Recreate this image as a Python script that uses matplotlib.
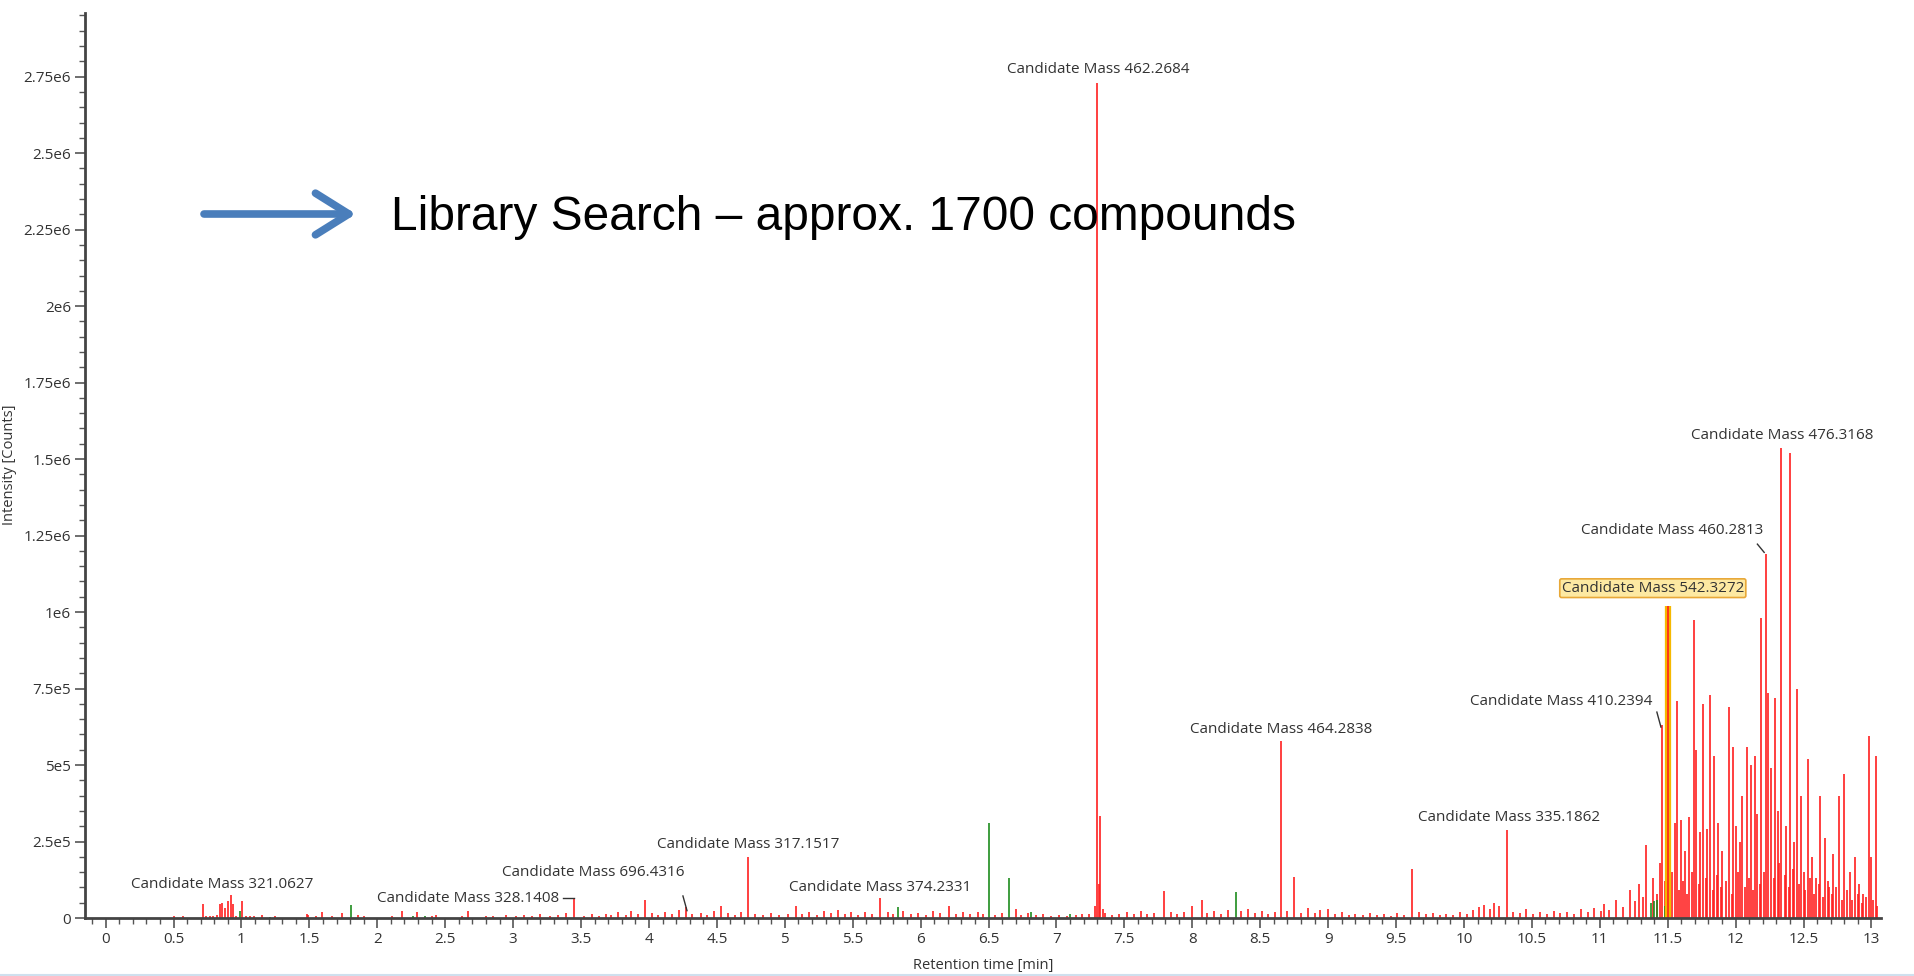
import matplotlib
matplotlib.use("Agg")
import matplotlib.pyplot as plt
from matplotlib.ticker import MultipleLocator
from matplotlib.lines import Line2D

# ---- peak data: retention time [min], intensity [counts] ----
main_rt = [7.28, 7.30, 7.31, 7.32, 7.34,
           0.50, 0.57, 0.716, 0.74, 0.77, 0.79, 0.82, 0.839, 0.859, 0.878, 0.898,
           0.920, 0.940, 0.96, 1.001, 1.03, 1.06, 1.09, 1.15, 1.25, 1.48, 1.49,
           1.55, 1.59, 1.67, 1.74, 1.86, 1.90, 2.11, 2.18, 2.29, 2.40, 2.43,
           2.62, 2.67, 2.80,
           3.45, 3.97, 4.27, 4.73, 5.70, 7.79, 8.07, 8.655, 8.75, 9.62, 10.32]
main_int = [4.0e4, 2.73e6, 1.1e5, 3.35e5, 3.0e4,
            5e3, 5e3, 4.7e4, 6e3, 5e3, 6e3, 1.0e4, 4.6e4, 5.0e4, 3.3e4, 5.5e4,
            7.4e4, 4.6e4, 7e3, 5.5e4, 7e3, 5e3, 5e3, 1.0e4, 5e3, 1.3e4, 9e3,
            5e3, 1.9e4, 5e3, 1.5e4, 1.0e4, 5e3, 5e3, 2.4e4, 1.9e4, 7e3, 1.1e4,
            8e3, 2.4e4, 5e3,
            6.4e4, 6.0e4, 3.5e4, 2.0e5, 6.4e4, 8.8e4, 6.0e4, 5.78e5, 1.35e5, 1.6e5, 2.88e5]

noise_rt = [2.85, 2.95, 3.02, 3.08, 3.14, 3.20, 3.27, 3.33, 3.39, 3.52, 3.58, 3.63,
            3.68, 3.72, 3.77, 3.83, 3.87, 3.92, 4.02, 4.07, 4.12, 4.17, 4.22, 4.32,
            4.38, 4.43, 4.48, 4.53, 4.58, 4.63, 4.68, 4.78, 4.84, 4.90, 4.96, 5.02,
            5.08, 5.13, 5.18, 5.24, 5.29, 5.34, 5.39, 5.44, 5.49, 5.54, 5.59, 5.64,
            5.76, 5.80, 5.87, 5.93, 5.98, 6.04, 6.09, 6.14, 6.21, 6.26, 6.31, 6.36,
            6.42, 6.46, 6.55, 6.60, 6.70, 6.74, 6.79, 6.85, 6.90, 6.96, 7.02, 7.08,
            7.14, 7.19, 7.24, 7.36, 7.41, 7.46, 7.52, 7.57, 7.62, 7.67, 7.72, 7.84,
            7.89, 7.94, 8.00, 8.11, 8.16, 8.21, 8.26, 8.36, 8.41, 8.46, 8.51, 8.56,
            8.61, 8.70, 8.80, 8.85, 8.90, 8.94, 9.00, 9.05, 9.10, 9.15, 9.20, 9.26,
            9.31, 9.36, 9.41, 9.46, 9.51, 9.56, 9.67, 9.72, 9.77, 9.82, 9.87, 9.92,
            9.97, 10.02, 10.07, 10.11, 10.15, 10.19, 10.22, 10.26, 10.36, 10.41,
            10.46, 10.51, 10.56, 10.61, 10.66, 10.71, 10.76, 10.81, 10.86, 10.91,
            10.96, 11.01]
noise_int = [6e3, 9e3, 5e3, 1.1e4, 7e3, 1.3e4, 6e3, 9e3, 1.5e4, 8e3, 1.2e4, 7e3,
             1.4e4, 9e3, 1.8e4, 1.1e4, 2.2e4, 1.3e4, 1.6e4, 1.0e4, 2.0e4, 1.4e4, 2.6e4, 1.2e4,
             1.7e4, 9e3, 2.2e4, 3.8e4, 1.5e4, 1.1e4, 1.8e4, 1.3e4, 9e3, 1.6e4, 1.1e4, 1.4e4,
             4.0e4, 1.2e4, 1.9e4, 1.1e4, 2.3e4, 1.5e4, 2.6e4, 1.3e4, 1.8e4, 1.0e4, 2.1e4, 1.4e4,
             1.9e4, 1.2e4, 2.4e4, 1.3e4, 1.7e4, 1.1e4, 2.3e4, 1.5e4, 3.8e4, 1.4e4, 1.9e4, 1.2e4,
             2.1e4, 1.3e4, 1.1e4, 1.6e4, 2.8e4, 1.1e4, 1.5e4, 9e3, 1.3e4, 8e3, 1.1e4, 7e3,
             1.0e4, 1.4e4, 1.2e4, 1.5e4, 1.0e4, 1.3e4, 1.9e4, 1.2e4, 2.2e4, 1.4e4, 1.6e4, 2.1e4,
             1.3e4, 1.8e4, 3.8e4, 1.6e4, 2.2e4, 1.4e4, 2.7e4, 2.2e4, 3.0e4, 1.5e4, 2.4e4, 1.3e4,
             1.9e4, 2.4e4, 1.6e4, 3.2e4, 1.5e4, 2.6e4, 3.1e4, 1.4e4, 2.1e4, 1.0e4, 1.3e4, 9e3,
             1.6e4, 1.0e4, 1.2e4, 8e3, 1.5e4, 1.1e4, 2.0e4, 1.2e4, 1.6e4, 1.0e4, 1.3e4, 9e3,
             1.9e4, 1.4e4, 2.6e4, 3.6e4, 4.1e4, 2.8e4, 4.8e4, 3.9e4, 2.0e4, 1.6e4,
             2.9e4, 1.4e4, 1.8e4, 1.2e4, 2.4e4, 1.5e4, 2.0e4, 1.3e4, 2.8e4, 1.9e4,
             3.4e4, 2.2e4]

cluster_rt = [11.03, 11.07, 11.12, 11.17, 11.22, 11.26, 11.29, 11.32, 11.34, 11.39,
              11.42, 11.44, 11.46, 11.48, 11.53, 11.55, 11.57, 11.58, 11.60, 11.61,
              11.63, 11.64, 11.66, 11.68, 11.69, 11.71, 11.73, 11.74, 11.76, 11.78,
              11.79, 11.81, 11.83, 11.84, 11.86, 11.87, 11.89, 11.90, 11.93, 11.95,
              11.97, 11.98, 12.00, 12.02, 12.03, 12.05, 12.07, 12.08, 12.10, 12.11,
              12.13, 12.14, 12.16, 12.18, 12.19, 12.21, 12.22, 12.24, 12.26, 12.28,
              12.29, 12.31, 12.32, 12.335, 12.36, 12.37, 12.39, 12.40, 12.42, 12.43,
              12.45, 12.47, 12.48, 12.50, 12.51, 12.53, 12.55, 12.56, 12.58, 12.59,
              12.61, 12.62, 12.64, 12.66, 12.68, 12.69, 12.71, 12.72, 12.74, 12.76,
              12.78, 12.80, 12.82, 12.84, 12.86, 12.88, 12.90, 12.91, 12.93, 12.94,
              12.96, 12.98, 13.00, 13.01, 13.03, 13.04]
cluster_int = [4.5e4, 2.5e4, 6.0e4, 3.5e4, 9.0e4, 5.5e4, 1.1e5, 7.0e4, 2.4e5, 1.3e5,
               8.0e4, 1.8e5, 6.3e5, 1.2e5, 1.5e5, 3.1e5, 7.1e5, 9.0e4, 3.2e5, 1.2e5,
               2.2e5, 8.0e4, 3.3e5, 1.5e5, 9.75e5, 5.5e5, 1.1e5, 2.8e5, 7.0e5, 1.3e5,
               2.9e5, 7.3e5, 9.0e4, 5.3e5, 1.4e5, 3.1e5, 1.0e5, 2.2e5, 1.2e5, 6.9e5,
               8.0e4, 5.6e5, 3.0e5, 1.5e5, 2.5e5, 4.0e5, 1.0e5, 5.6e5, 1.3e5, 5.0e5,
               9.0e4, 5.3e5, 3.4e5, 1.1e5, 9.8e5, 1.5e5, 1.19e6, 7.35e5, 4.9e5, 1.3e5,
               7.2e5, 3.5e5, 1.8e5, 1.535e6, 1.4e5, 3.0e5, 1.0e5, 1.52e6, 1.6e5, 2.5e5,
               7.5e5, 1.1e5, 4.0e5, 1.5e5, 9.0e4, 5.2e5, 1.3e5, 2.0e5, 8.0e4, 1.3e5,
               1.1e5, 4.0e5, 7.0e4, 2.6e5, 1.2e5, 1.0e5, 8.0e4, 2.1e5, 1.0e5, 4.0e5,
               6.0e4, 4.7e5, 9.0e4, 1.5e5, 6.0e4, 2.0e5, 8.0e4, 1.1e5, 5.0e4, 8.0e4,
               7.0e4, 5.95e5, 2.0e5, 6.0e4, 5.3e5, 4.0e4]

green_rt = [0.989, 1.21, 1.806, 2.26, 2.35, 5.83, 6.50, 6.65, 6.81, 7.10, 8.32,
            11.38, 11.40, 11.42, 11.48, 11.52]
green_int = [2.4e4, 4e3, 4.2e4, 5e3, 5e3, 3.5e4, 3.1e5, 1.3e5, 2.0e4, 1.2e4, 8.5e4,
             5.0e4, 5.5e4, 6.0e4, 4.0e4, 8.0e4]

hl_rt = [11.50]
hl_int = [1.02e6]

# ---- candidate labels ----
label_text = ["Candidate Mass 462.2684", "Candidate Mass 476.3168", "Candidate Mass 460.2813",
              "Candidate Mass 542.3272", "Candidate Mass 410.2394", "Candidate Mass 464.2838",
              "Candidate Mass 335.1862", "Candidate Mass 317.1517", "Candidate Mass 374.2331",
              "Candidate Mass 696.4316", "Candidate Mass 328.1408", "Candidate Mass 321.0627"]
label_rt = [7.305, 12.344, 11.534, 11.39, 10.715, 8.655, 10.33, 4.73, 5.70, 3.59, 2.67, 0.855]
label_int = [2.772e6, 1.578e6, 1.266e6, 1.078e6, 7.07e5, 6.15e5, 3.28e5, 2.40e5, 1.0e5,
             1.48e5, 6.4e4, 1.08e5]

# leader lines from label to peak (rt pair, intensity pair)
leaders = [((12.16, 12.21), (1.222e6, 1.195e6)),
           ((11.42, 11.45), (6.73e5, 6.24e5)),
           ((4.25, 4.28), (7.2e4, 2.4e4)),
           ((3.37, 3.45), (6.4e4, 6.4e4))]

xticks = [i * 0.5 for i in range(27)]
xtick_labels = ["%g" % v for v in xticks]
yticks = [0, 2.5e5, 5e5, 7.5e5, 1e6, 1.25e6, 1.5e6, 1.75e6, 2e6, 2.25e6, 2.5e6, 2.75e6]
ytick_labels = ["0", "2.5e5", "5e5", "7.5e5", "1e6", "1.25e6", "1.5e6", "1.75e6",
                "2e6", "2.25e6", "2.5e6", "2.75e6"]

plt.rcParams['font.family'] = ['Open Sans', 'DejaVu Sans']

W, H = 1915, 976
fig = plt.figure(figsize=(W / 100, H / 100), dpi=100)
fig.patch.set_facecolor('white')
ax = fig.add_axes([85 / W, 1 - 918 / H, (1881 - 85) / W, (918 - 13) / H])

red = '#ff1f1f'
ax.vlines(noise_rt, 0, noise_int, colors=red, lw=1.2)
ax.vlines(main_rt, 0, main_int, colors=red, lw=1.2)
ax.vlines(cluster_rt, 0, cluster_int, colors=red, lw=1.2)
ax.vlines(green_rt, 0, green_int, colors='#1e8c1e', lw=1.2)
ax.vlines(hl_rt, 0, hl_int, colors='#f5b800', lw=4.5)
ax.vlines(hl_rt, 0, hl_int, colors=red, lw=1.2)

for i in range(len(label_text)):
    kw = {}
    if label_text[i].endswith("542.3272"):
        kw['bbox'] = dict(boxstyle='round,pad=0.12', fc='#fde9a2', ec='#e8a838', lw=1.2)
    ax.text(label_rt[i], label_int[i], label_text[i], ha='center', va='center',
            fontsize=11, color='#333333', **kw)

for (xs, ys) in leaders:
    ax.plot(xs, ys, color='#333333', lw=1.0)

ax.set_xlim(-0.152, 13.07)
ax.set_ylim(0, 2.958e6)
ax.set_xticks(xticks)
ax.set_xticklabels(xtick_labels)
ax.set_yticks(yticks)
ax.set_yticklabels(ytick_labels)
ax.xaxis.set_minor_locator(MultipleLocator(0.1))
ax.yaxis.set_minor_locator(MultipleLocator(5e4))

for s in ['top', 'right']:
    ax.spines[s].set_visible(False)
for s in ['left', 'bottom']:
    ax.spines[s].set_color('#444444')
    ax.spines[s].set_linewidth(2.0)

ax.tick_params(which='major', length=7, width=1.2, color='#555555',
               labelsize=11, labelcolor='#333333', pad=3)
ax.tick_params(which='minor', length=4, width=1.0, color='#555555')

fig.text(10 / W, 1 - 465 / H, "Intensity [Counts]", rotation=90, ha='center', va='center',
         fontsize=10.5, color='#333333')
fig.text(983 / W, 1 - 966 / H, "Retention time [min]", ha='center', va='center',
         fontsize=10.5, color='#333333')

# library search note with arrow
ax.annotate("", xy=(356 / W, 1 - 214 / H), xytext=(204 / W, 1 - 214 / H),
            xycoords='figure fraction', textcoords='figure fraction',
            arrowprops=dict(arrowstyle='->,head_length=0.8,head_width=0.5', color='#4a7ebb',
                            lw=5.5, mutation_scale=30, shrinkA=0, shrinkB=0,
                            capstyle='round', joinstyle='round'))
fig.text(391 / W, 1 - 217 / H, "Library Search \u2013 approx. 1700 compounds",
         ha='left', va='center', fontsize=34.5, family=['Liberation Sans', 'DejaVu Sans'],
         color='black')

fig.add_artist(Line2D([0, 1], [1.5 / H, 1.5 / H], color='#cfe0ee', lw=1.5))

fig.savefig("out.png", dpi=100, facecolor='white')
